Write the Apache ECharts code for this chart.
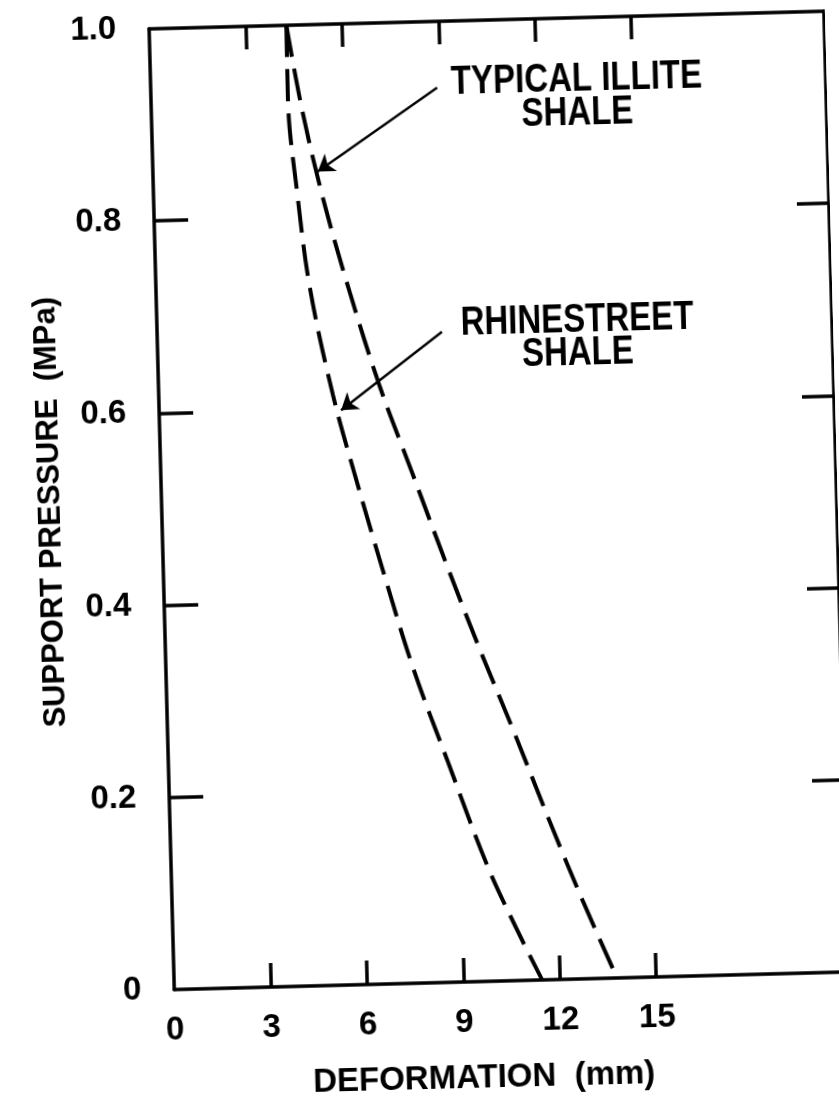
<!DOCTYPE html>
<html>
<head>
<meta charset="utf-8">
<script src="https://cdn.jsdelivr.net/npm/echarts@6/dist/echarts.min.js"></script>
<style>
  html, body { margin: 0; padding: 0; background: #fff; overflow: hidden; }
  /* the scanned figure sits slightly tilted on the page */
  #chart { width: 839px; height: 1111px; transform: rotate(-1.5deg); transform-origin: 50% 50%; }
</style>
</head>
<body>
<div id="chart"></div>
<script>
const xTickValues = [3, 6, 9, 12, 15];
const xLabelValues = [0, 3, 6, 9, 12, 15];
const yTickValues = [0.2, 0.4, 0.6, 0.8];
const yLabelValues = [0, 0.2, 0.4, 0.6, 0.8, 1.0];

// Rhinestreet shale (left dashed curve)
const rhineX = [4.27, 4.26, 4.47, 4.79, 5.42, 6.04, 6.80, 7.69, 8.70, 9.83, 10.68, 11.45];
const rhineY = [1.0, 0.922, 0.826, 0.726, 0.614, 0.530, 0.434, 0.328, 0.229, 0.121, 0.055, 0];

// Typical illite shale (right dashed curve)
const illiteX = [4.27, 4.69, 5.27, 6.03, 6.89, 7.79, 8.77, 9.73, 10.75, 11.82, 12.79, 13.78];
const illiteY = [1.0, 0.912, 0.819, 0.720, 0.621, 0.534, 0.439, 0.350, 0.261, 0.164, 0.080, 0];

// labels and their arrows
const noteText = ['TYPICAL ILLITE\nSHALE', 'RHINESTREET\nSHALE'];
const noteX = [13.25, 13.07];
const noteY = [0.918, 0.668];
const arrowFrom = [[8.91, 0.931], [8.86, 0.677]];
const arrowTo = [[5.13, 0.847], [5.66, 0.598]];

const ink = '#000';
const font = 'Liberation Sans, Arial, Helvetica, sans-serif';

const zip = (xs, ys) => xs.map((x, i) => [x, ys[i]]);

const chart = echarts.init(document.getElementById('chart'));

const dashStyle = { color: ink, width: 4, type: [32, 12] };
const frameLine = { show: true, onZero: false, lineStyle: { color: ink, width: 3.5 } };
const tickLine = { color: ink, width: 3.5 };

chart.setOption({
  animation: false,
  backgroundColor: '#fff',
  grid: { left: 163, top: 22, width: 675, height: 961 },
  xAxis: [
    {
      type: 'value', min: 0, max: 21, interval: 3,
      name: 'DEFORMATION  (mm)', nameLocation: 'middle', nameGap: 80,
      nameTextStyle: { fontSize: 33, fontWeight: 'bold', color: ink, fontFamily: font, padding: [0, 60, 0, 0] },
      axisLine: frameLine,
      axisTick: { show: true, inside: true, length: 24, customValues: xTickValues, lineStyle: tickLine },
      axisLabel: { customValues: xLabelValues, margin: 24, fontSize: 33, fontWeight: 'bold', color: ink, fontFamily: font },
      splitLine: { show: false }
    },
    {
      type: 'value', min: 0, max: 21, interval: 3, position: 'top',
      axisLine: frameLine,
      axisTick: { show: true, inside: true, length: 23, customValues: xTickValues, lineStyle: tickLine },
      axisLabel: { show: false },
      splitLine: { show: false }
    }
  ],
  yAxis: [
    {
      type: 'value', min: 0, max: 1, interval: 0.2,
      name: 'SUPPORT PRESSURE  (MPa)', nameLocation: 'middle', nameGap: 95, nameRotate: 90,
      nameTextStyle: { fontSize: 31, fontWeight: 'bold', color: ink, fontFamily: font },
      axisLine: frameLine,
      axisTick: { show: true, inside: true, length: 34, customValues: yTickValues, lineStyle: tickLine },
      axisLabel: {
        customValues: yLabelValues, margin: 33, fontSize: 33, fontWeight: 'bold', color: ink, fontFamily: font,
        formatter: v => (v === 0 ? '0' : v.toFixed(1))
      },
      splitLine: { show: false }
    },
    {
      type: 'value', min: 0, max: 1, interval: 0.2, position: 'right',
      axisLine: frameLine,
      axisTick: { show: true, inside: true, length: 32, customValues: yTickValues, lineStyle: tickLine },
      axisLabel: { show: false },
      splitLine: { show: false }
    }
  ],
  series: [
    {
      name: 'Rhinestreet Shale',
      type: 'line',
      data: zip(rhineX, rhineY),
      smooth: 0.35,
      showSymbol: false,
      lineStyle: dashStyle
    },
    {
      name: 'Typical Illite Shale',
      type: 'line',
      data: zip(illiteX, illiteY),
      smooth: 0.35,
      showSymbol: false,
      lineStyle: dashStyle,
      markLine: {
        silent: true,
        symbol: ['none', 'arrow'],
        symbolSize: 16,
        label: { show: false },
        lineStyle: { color: ink, width: 2.5, type: 'solid', curveness: -0.17 },
        data: arrowFrom.map((p, i) => [{ coord: p }, { coord: arrowTo[i] }])
      }
    }
  ]
});

// curve labels: the lettering in the original is tall and narrow, so stretch it a bit
chart.setOption({
  graphic: noteText.map((t, i) => {
    const [px, py] = chart.convertToPixel({ gridIndex: 0 }, [noteX[i], noteY[i]]);
    return {
      type: 'text',
      x: px,
      y: py,
      scaleY: 1.25,
      silent: true,
      style: {
        text: t,
        font: 'bold 33px "Liberation Sans", Arial, sans-serif',
        fill: ink,
        align: 'center',
        verticalAlign: 'middle',
        lineHeight: 27
      }
    };
  })
});
</script>
</body>
</html>
